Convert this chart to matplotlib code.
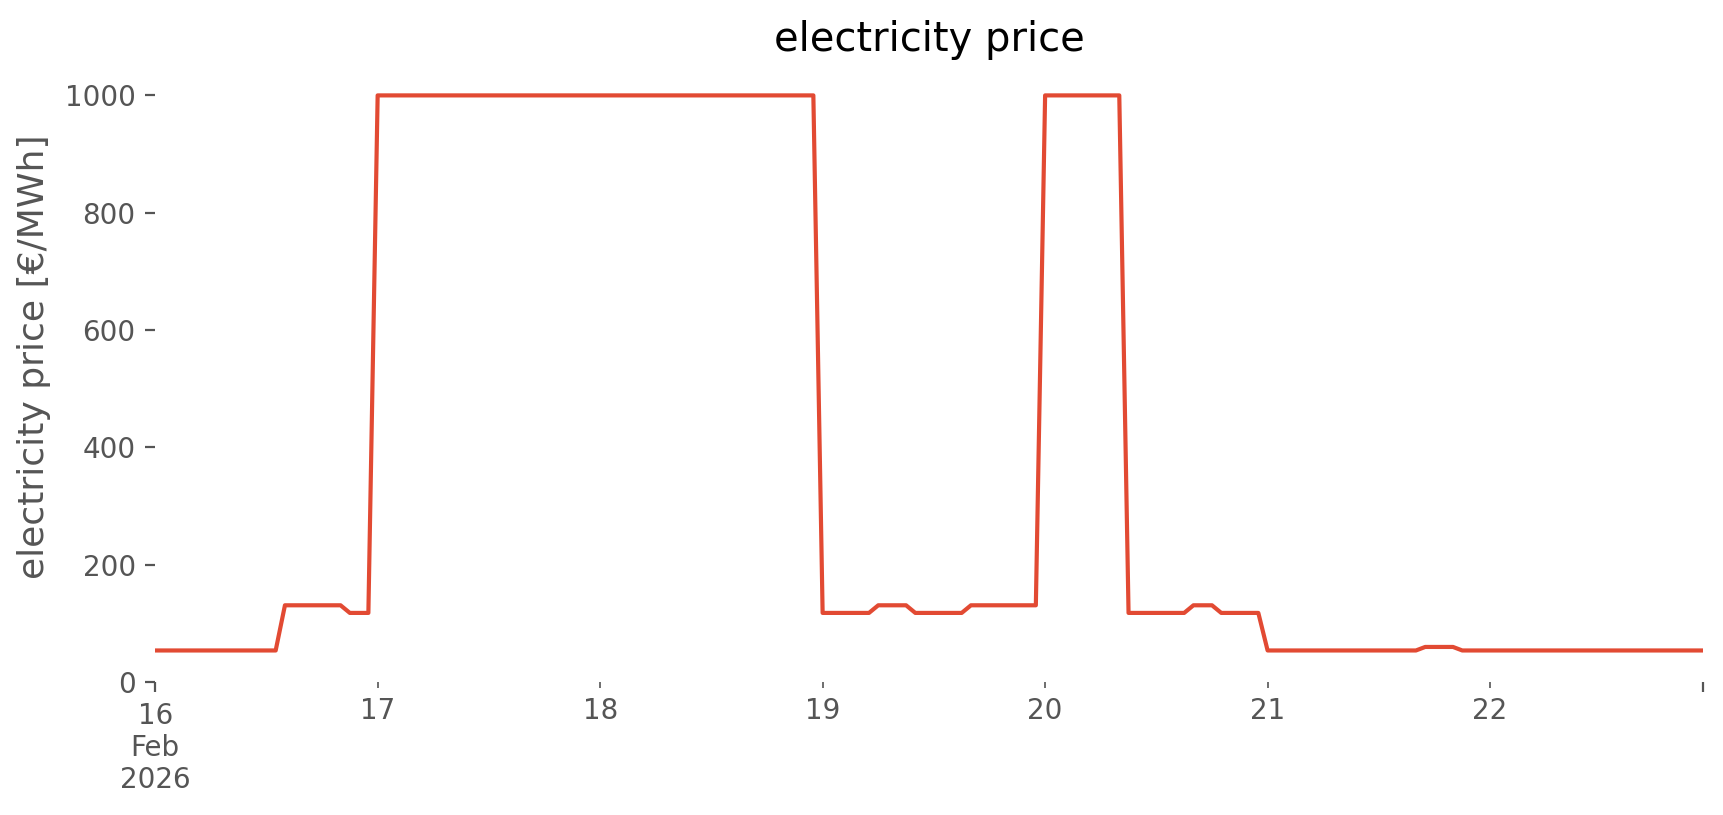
import matplotlib
matplotlib.use("Agg")
import matplotlib.pyplot as plt
import pandas as pd
import numpy as np

plt.style.use("ggplot")
plt.rcParams["font.size"] = 10.0
plt.rcParams["axes.facecolor"] = "white"
plt.rcParams["axes.grid"] = False

# hourly electricity price, 16 Feb 2026 00:00 .. 22 Feb 2026 23:00
start = "2026-02-16 00:00"
segment_values = [54, 131, 118, 1000, 118, 131, 118, 131, 1000, 118, 131, 118, 54, 60, 54]
segment_hours = [14, 7, 3, 48, 6, 4, 6, 8, 9, 7, 3, 5, 17, 4, 27]

prices = []
for v, n in zip(segment_values, segment_hours):
    prices += [v] * n

index = pd.date_range(start, periods=len(prices), freq="h")
series = pd.Series(prices, index=index, name="electricity price")

fig = plt.figure(figsize=(8.62, 4.075), dpi=200)
ax = fig.add_axes([0.090, 0.163, 0.898, 0.754])
series.plot(ax=ax, color="#E24A33", linewidth=1.5)
ax.set_ylim(bottom=0)
ax.set_title("electricity price", fontsize=14.4)
ax.set_ylabel("electricity price [€/MWh]", fontsize=13.0)
ax.yaxis.set_label_coords(-0.067, 0.53)
ax.set_xlabel("")
ax.grid(False)
ax.set_facecolor("white")
for s in ax.spines.values():
    s.set_visible(False)

fig.savefig("out.png", dpi=200, facecolor="white")
